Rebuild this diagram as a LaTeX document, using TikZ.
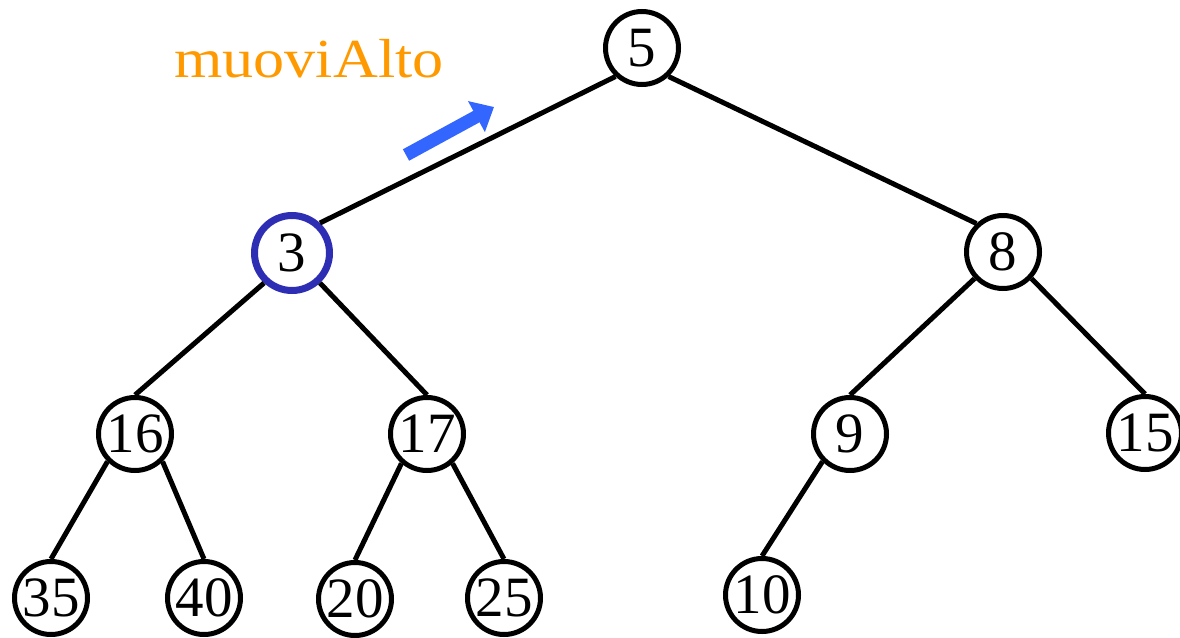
\documentclass[tikz,border=0pt]{standalone}
\usepackage{fontspec}
\setmainfont{Liberation Serif}
\usetikzlibrary{arrows.meta}
\definecolor{heapblue}{HTML}{2E2EB4}
\definecolor{movecol}{HTML}{3366FF}
\definecolor{labelorange}{HTML}{FF9900}
\begin{document}
\begin{tikzpicture}[x=1pt,y=-1pt,
  heapnode/.style={circle,draw=black,line width=5pt,minimum size=73pt,inner sep=0pt,
    font=\fontsize{57}{57}\selectfont,fill=white},
  current/.style={draw=heapblue,line width=7pt,minimum size=75pt},
  link/.style={line width=5pt}]
\useasboundingbox (0,0) rectangle (1180,637);
% tree nodes
\node[heapnode] (n5) at (642,48) {5};
\node[heapnode,current] (n3) at (292,253) {3};
\node[heapnode] (n8) at (1003,252) {8};
\node[heapnode] (n16) at (135,434) {16};
\node[heapnode] (n17) at (427,434) {17};
\node[heapnode] (n9) at (850,434) {9};
\node[heapnode] (n15) at (1145,433) {15};
\node[heapnode] (n35) at (51,598) {35};
\node[heapnode] (n40) at (204,598) {40};
\node[heapnode] (n20) at (355,599) {20};
\node[heapnode] (n25) at (504,598) {25};
\node[heapnode] (n10) at (762,595) {10};
% edges
\draw[link] (n5.227) -- (n3.47);
\draw[link] (n5.313) -- (n8.133);
\draw[link] (n3.227) -- (n16.north);
\draw[link] (n3.313) -- (n17.north);
\draw[link] (n8.223) -- (n9.north);
\draw[link] (n8.317) -- (n15.north);
\draw[link] (n16.225) -- (n35.north);
\draw[link] (n16.315) -- (n40.north);
\draw[link] (n17.229) -- (n20.north);
\draw[link] (n17.311) -- (n25.north);
\draw[link] (n9.225) -- (n10.north);
% move-up arrow and its label
\coordinate (arrowtail) at (406,155);
\coordinate (arrowtip) at (494,107);
\draw[movecol,line width=13pt,-{Triangle[length=20pt,width=34pt]}] (arrowtail) -- (arrowtip);
\node[text=labelorange,font=\fontsize{55}{55}\selectfont,inner sep=0pt] (lbl) at (309,59) {\scalebox{1.13}[1]{muoviAlto}};
\end{tikzpicture}
\end{document}
